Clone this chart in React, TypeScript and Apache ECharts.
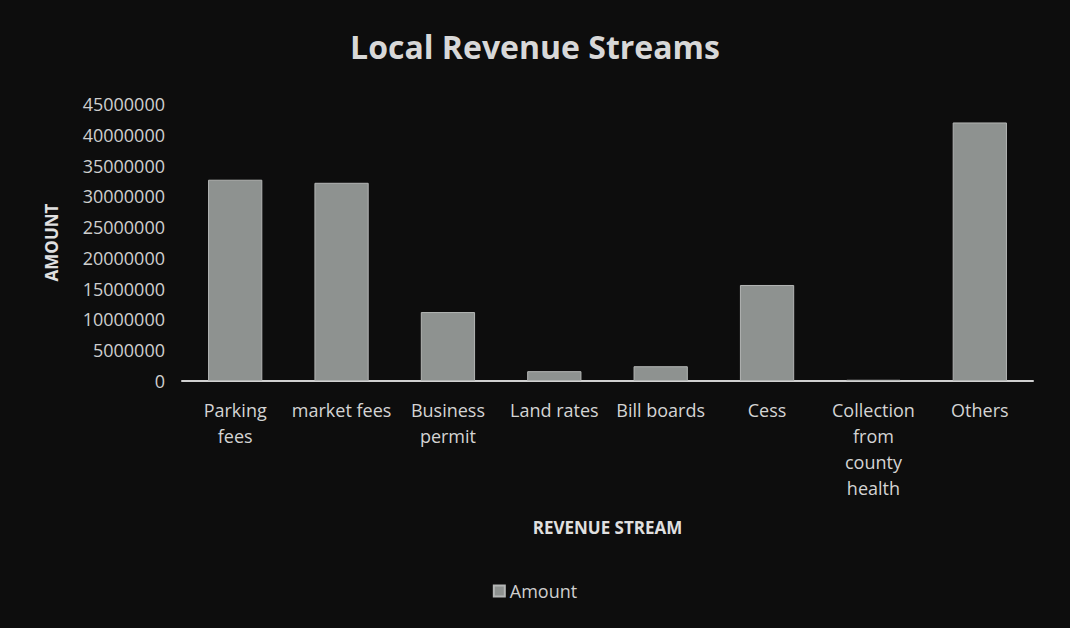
import React, { useEffect, useRef } from "react";
import * as echarts from "echarts";

const categories = [
  "Parking\nfees",
  "market fees",
  "Business\npermit",
  "Land rates",
  "Bill boards",
  "Cess",
  "Collection\nfrom\ncounty\nhealth",
  "Others",
];
const amounts = [32700000, 32200000, 11200000, 1600000, 2400000, 15600000, 200000, 42000000];
const seriesName = "Amount";
const chartTitle = "Local Revenue Streams";
const yName = "AMOUNT";
const xName = "REVENUE STREAM";

export default function App() {
  const ref = useRef<HTMLDivElement>(null);
  useEffect(() => {
    if (!ref.current) return;
    const chart = echarts.init(ref.current, null, { renderer: "svg" });
    const font = "'Open Sans', 'DejaVu Sans', sans-serif";
    chart.setOption({
      animation: false,
      backgroundColor: "#0d0d0d",
      textStyle: { fontFamily: font },
      title: {
        text: chartTitle,
        left: "center",
        top: 25,
        textStyle: { color: "#d8d8d8", fontSize: 32, fontWeight: "bold", fontFamily: font },
      },
      grid: { left: 182, right: 37, top: 104, bottom: 247, containLabel: false },
      legend: {
        bottom: 23,
        left: "center",
        itemWidth: 11,
        itemHeight: 11,
        icon: "rect",
        textStyle: { color: "#cfcfcf", fontSize: 18, fontFamily: font },
        data: [seriesName],
      },
      xAxis: {
        type: "category",
        data: categories,
        name: xName,
        nameLocation: "middle",
        nameGap: 138,
        nameTextStyle: { color: "#e0e0e0", fontSize: 17, fontWeight: "bold", fontFamily: font },
        axisLine: { lineStyle: { color: "#d0d0d0", width: 2 } },
        axisTick: { show: false },
        axisLabel: {
          color: "#d4d4d4",
          fontSize: 18,
          lineHeight: 26,
          margin: 16,
          interval: 0,
          verticalAlign: "top",
          fontFamily: font,
        },
      },
      yAxis: {
        type: "value",
        min: 0,
        max: 45000000,
        interval: 5000000,
        name: yName,
        nameLocation: "middle",
        nameGap: 122,
        nameRotate: 90,
        nameTextStyle: { color: "#e0e0e0", fontSize: 17, fontWeight: "bold", fontFamily: font },
        axisLine: { show: false },
        axisTick: { show: false },
        splitLine: { show: false },
        axisLabel: {
          color: "#cfcfcf",
          fontSize: 18,
          margin: 17,
          fontFamily: font,
          formatter: (v: number) => String(v),
        },
      },
      series: [
        {
          name: seriesName,
          type: "bar",
          data: amounts,
          barWidth: "51%",
          itemStyle: { color: "#8e9290", borderColor: "#b4b6b5", borderWidth: 1 },
        },
      ],
    });
    return () => chart.dispose();
  }, []);
  return <div ref={ref} style={{ width: 1070, height: 628, position: "absolute", left: 0, top: 0 }} />;
}
